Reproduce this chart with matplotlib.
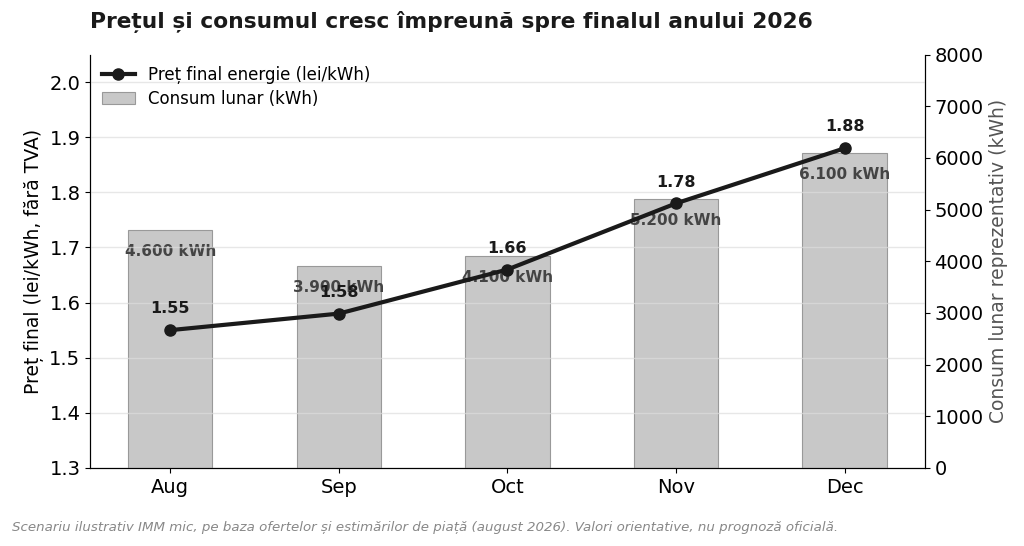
import numpy as np
import matplotlib
matplotlib.use('Agg')
import matplotlib.pyplot as plt

plt.rcParams.update({'font.family': 'DejaVu Sans'})

months = ['Aug', 'Sep', 'Oct', 'Nov', 'Dec']
price = [1.55, 1.58, 1.66, 1.78, 1.88]
consum = [4600, 3900, 4100, 5200, 6100]
consum_labels = ['4.600 kWh', '3.900 kWh', '4.100 kWh', '5.200 kWh', '6.100 kWh']

fig, ax = plt.subplots(figsize=(10.24, 5.46), dpi=100)
ax2 = ax.twinx()
x = np.arange(len(months))

ax2.bar(x, consum, width=0.5, color='#c8c8c8', edgecolor='#999999', linewidth=0.8,
        label='Consum lunar (kWh)')
for xi, v, lab in zip(x, consum, consum_labels):
    ax2.annotate(lab, (xi, v), xytext=(0, -10), textcoords='offset points',
                 ha='center', va='top', fontsize=11, fontweight='bold', color='#444444')
ax2.set_ylim(0, 8000)
ax2.set_ylabel('Consum lunar reprezentativ (kWh)', fontsize=13.5, color='#555555')
ax2.tick_params(labelsize=14)

ax.set_zorder(ax2.get_zorder() + 1)
ax.patch.set_visible(False)
ax.plot(x, price, color='#1a1a1a', linewidth=3, marker='o', markersize=8,
        label='Preț final energie (lei/kWh)')
for xi, p in zip(x, price):
    ax.annotate(f'{p:.2f}', (xi, p), xytext=(0, 10), textcoords='offset points',
                ha='center', va='bottom', fontsize=11.5, fontweight='bold', color='#1a1a1a')
ax.set_ylim(1.3, 2.05)
ax.set_yticks(np.arange(1.3, 2.01, 0.1))
ax.set_xticks(x)
ax.set_xticklabels(months)
ax.tick_params(labelsize=14)
ax.set_ylabel('Preț final (lei/kWh, fără TVA)', fontsize=13.5)
ax.grid(axis='y', color='#dddddd', alpha=0.7, linewidth=1)
ax.set_axisbelow(True)

for a in (ax, ax2):
    a.spines['top'].set_visible(False)

h1, l1 = ax.get_legend_handles_labels()
h2, l2 = ax2.get_legend_handles_labels()
ax.legend(h1 + h2, l1 + l2, loc='upper left', frameon=False, fontsize=12,
          borderaxespad=0.3, labelspacing=0.35)

fig.text(0.088, 0.948, 'Prețul și consumul cresc împreună spre finalul anului 2026',
         fontsize=15.7, fontweight='bold', color='#1a1a1a', ha='left')
fig.text(0.012, 0.028, 'Scenariu ilustrativ IMM mic, pe baza ofertelor și estimărilor de piață '
         '(august 2026). Valori orientative, nu prognoză oficială.',
         fontsize=9.6, style='italic', color='#888888', ha='left')

fig.subplots_adjust(left=0.088, right=0.903, top=0.9, bottom=0.143)
fig.savefig('out.png', dpi=100)
